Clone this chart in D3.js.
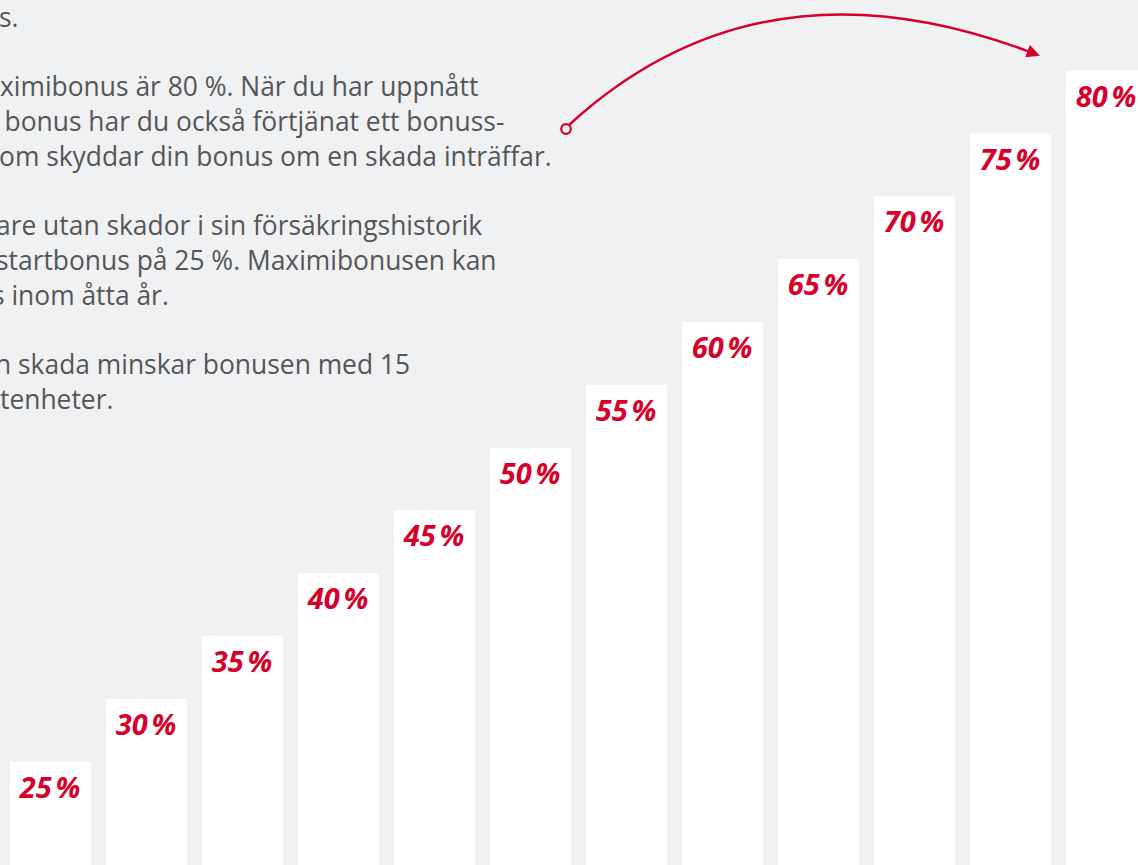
<!DOCTYPE html>
<html>
	<head>
		<meta charset="utf-8" />
		<title>bonus</title>
		<script src="https://cdn.jsdelivr.net/npm/d3@7"></script>
		<style>
			html, body { margin:0; padding:0; background:#f0f1f3; overflow:hidden; }
			svg { display:block; }
		</style>
	</head>
	<body>
		<svg width="1138" height="865"></svg>
		<script>
			// data
			var steps = [1,2,3,4,5,6,7,8,9,10,11,12];
			var bonus = [25,30,35,40,45,50,55,60,65,70,75,80];
			var bonusLabels = ["25\u202F%","30\u202F%","35\u202F%","40\u202F%","45\u202F%","50\u202F%","55\u202F%","60\u202F%","65\u202F%","70\u202F%","75\u202F%","80\u202F%"];

			// text lines (cut at the left edge in the picture)
			var textLines = [
				"s.",
				"",
				"ximibonus är 80 %. När du har uppnått",
				"bonus har du också förtjänat ett bonuss-",
				"om skyddar din bonus om en skada inträffar.",
				"",
				"are utan skador i sin försäkringshistorik",
				"startbonus på 25 %. Maximibonusen kan",
				"s inom åtta år.",
				"",
				"n skada minskar bonusen med 15",
				"tenheter."
			];
			var textIndent = [-1,0,0,4.5,-1,0,-4,-4,-8,0,-5,0];

			var svg = d3.select("svg")
			var width = +svg.attr("width")
			var height = +svg.attr("height")
			var red = "#d6002a"

			svg.append("rect")
				.attr("width",width)
				.attr("height",height)
				.attr("fill","#f0f1f3");

			var x = d3.scaleBand()
				.domain(steps)
				.range([2,1154])
				.paddingInner(1/6)
				.paddingOuter(1/12);

			// baseline is below the bottom of the picture
			var y = d3.scaleLinear()
				.domain([0,80])
				.range([1075.8,70.7]);

			var bars = svg.append("g")
				.selectAll("g")
				.data(steps)
				.enter()
				.append("g");

			bars.append("rect")
				.attr("x",function(d){ return x(d); })
				.attr("y",function(d,i){ return y(bonus[i]); })
				.attr("width",x.bandwidth()+1)
				.attr("height",function(d,i){ return y(0)-y(bonus[i]); })
				.attr("fill","#ffffff");

			bars.append("text")
				.attr("x",function(d){ return x(d)+x.bandwidth()/2; })
				.attr("y",function(d,i){ return y(bonus[i])+36; })
				.attr("text-anchor","middle")
				.attr("font-family","'Open Sans', sans-serif")
				.attr("font-weight",700)
				.attr("font-style","italic")
				.attr("font-size",29)
				.attr("letter-spacing",-1.3)
				.attr("fill",red)
				.text(function(d,i){ return bonusLabels[i]; });

			// body text
			svg.append("g")
				.selectAll("text")
				.data(textLines)
				.enter()
				.append("text")
				.attr("x",function(d,i){ return textIndent[i]; })
				.attr("y",function(d,i){ return 27+i*34.7; })
				.attr("font-family","'Open Sans', sans-serif")
				.attr("font-size",26.4)
				.attr("fill","#555657")
				.text(function(d){ return d; });

			// arrow from the text to the top bar
			var defs = svg.append("defs");
			defs.append("marker")
				.attr("id","head")
				.attr("viewBox","0 0 10 10")
				.attr("refX",2)
				.attr("refY",5)
				.attr("markerWidth",6.5)
				.attr("markerHeight",5.5)
				.attr("markerUnits","strokeWidth")
				.attr("orient","auto")
				.append("path")
				.attr("d","M0,0 L10,5 L0,10 z")
				.attr("fill",red);

			svg.append("path")
				.attr("d","M569,125 Q760,-50 1030,52")
				.attr("fill","none")
				.attr("stroke",red)
				.attr("stroke-width",2.4)
				.attr("marker-end","url(#head)");

			svg.append("circle")
				.attr("cx",566)
				.attr("cy",129)
				.attr("r",4.8)
				.attr("fill","#f0f1f3")
				.attr("stroke",red)
				.attr("stroke-width",2.2);
		</script>
	</body>
</html>
